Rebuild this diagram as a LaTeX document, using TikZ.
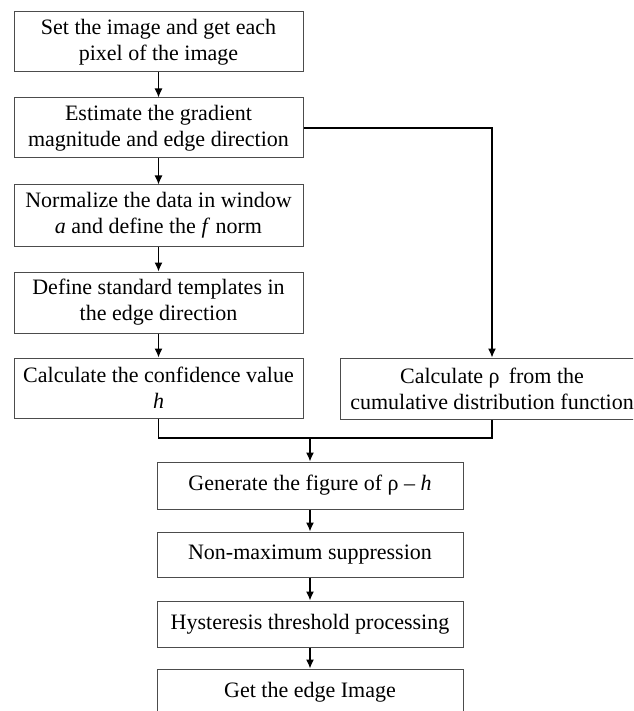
\documentclass[tikz,border=0pt]{standalone}
\usepackage{fontspec}
\setmainfont{Liberation Serif}
\usetikzlibrary{arrows.meta}

\tikzset{
  box/.style={draw=black!70, line width=0.5pt, align=center, inner sep=2pt,
    font=\fontsize{11}{13}\selectfont},
  flow/.style={draw=black, line width=0.65pt},
  arr/.style={flow, -{Latex[length=4.5pt,width=4pt]}}
}

\begin{document}
\begin{tikzpicture}[x=0.5pt, y=-0.5pt]
        \useasboundingbox (0,0) rectangle (633,711);
        \clip (0,0) rectangle (633,711);
        \fill[white] (0,0) rectangle (633,711);
        % left column
        \node[box, minimum width=144.5pt, minimum height=30pt] (setimg) at (158.5,42) {Set the image and get each\\ pixel of the image};
        \node[box, minimum width=144.5pt, minimum height=30pt] (grad) at (158.5,128) {Estimate the gradient\\ magnitude and edge direction};
        \node[box, minimum width=144.5pt, minimum height=30.5pt] (norm) at (158.5,215.5) {Normalize the data in window\\ \textit{a} and define the \textit{f} norm};
        \node[box, minimum width=144.5pt, minimum height=30.5pt] (templ) at (158.5,302.5) {Define standard templates in\\ the edge direction};
        \node[box, minimum width=144.5pt, minimum height=30pt] (conf) at (158.5,388) {Calculate the confidence value\\ \textit{h}};
        % right branch
        \node[box, minimum width=152pt, minimum height=30.5pt] (rho) at (492,388.5) {Calculate ρ\, from the\\ cumulative distribution function};
        % bottom column
        \node[box, minimum width=153pt, minimum height=23.5pt] (fig) at (310,485.5) {Generate the figure of ρ – \textit{h}};
        \node[box, minimum width=153pt, minimum height=22.5pt] (nms) at (310,554.5) {Non-maximum suppression};
        \node[box, minimum width=153pt, minimum height=23pt] (hyst) at (310,624) {Hysteresis threshold processing};
        \node[box, minimum width=153pt, minimum height=23pt] (edge) at (310,692) {Get the edge Image};
        % connectors
        \draw[arr] (setimg) -- (grad);
        \draw[arr] (grad) -- (norm);
        \draw[arr] (norm) -- (templ);
        \draw[arr] (templ) -- (conf);
        \draw[arr] (grad.east) -| (rho.north);
        \coordinate (merge) at (310,438);
        \draw[flow] (conf.south) |- (merge) -| (rho.south);
        \draw[arr] (merge) -- (fig);
        \draw[arr] (fig) -- (nms);
        \draw[arr] (nms) -- (hyst);
        \draw[arr] (hyst) -- (edge);
\end{tikzpicture}
\end{document}
